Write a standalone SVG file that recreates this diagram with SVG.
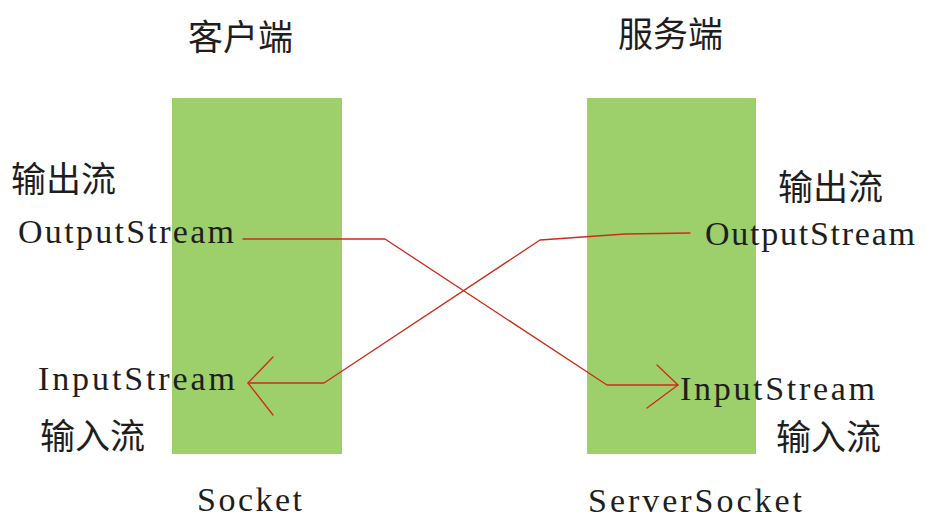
<svg xmlns="http://www.w3.org/2000/svg" width="927" height="520" viewBox="0 0 927 520">
  <style>
    .block { fill: #9dd06b; }
    .cjk { font-family: "Noto Sans CJK SC", sans-serif; font-size: 35px; fill: #1e1e1e; }
    .mono { font-family: "Liberation Serif", serif; font-size: 34px; fill: #1e1e1e; }
    .wire { fill: none; stroke: #cf2a1c; stroke-width: 1.3; stroke-linejoin: round; stroke-linecap: round; }
  </style>
  <rect width="927" height="520" fill="#ffffff"/>

  <!-- client side -->
  <g id="client">
    <text class="cjk" x="188" y="50">客户端</text>
    <rect class="block" x="172" y="98" width="170" height="356"/>
    <text class="cjk" x="11" y="192">输出流</text>
    <text class="mono" x="18" y="243" textLength="216" lengthAdjust="spacing">OutputStream</text>
    <text class="mono" x="38" y="390" textLength="197" lengthAdjust="spacing">InputStream</text>
    <text class="cjk" x="40" y="449">输入流</text>
    <text class="mono" x="197" y="511" textLength="105" lengthAdjust="spacing">Socket</text>
  </g>

  <!-- server side -->
  <g id="server">
    <text class="cjk" x="618" y="47">服务端</text>
    <rect class="block" x="587" y="98" width="169" height="356"/>
    <text class="cjk" x="778" y="200">输出流</text>
    <text class="mono" x="705" y="245" textLength="210" lengthAdjust="spacing">OutputStream</text>
    <text class="mono" x="680" y="400" textLength="195" lengthAdjust="spacing">InputStream</text>
    <text class="cjk" x="776" y="450">输入流</text>
    <text class="mono" x="588" y="512" textLength="214" lengthAdjust="spacing">ServerSocket</text>
  </g>

  <!-- data flow between the two sockets -->
  <g id="connectors">
    <!-- client output -> server input -->
    <polyline class="wire" points="243,239 385,239 607,385 678,385"/>
    <polyline class="wire" points="657,365 678,385 647,408"/>
    <!-- server output -> client input -->
    <polyline class="wire" points="690,233 625,234 540,240 324,383 248,383"/>
    <polyline class="wire" points="273,357 248,383 273,415"/>
  </g>
</svg>
